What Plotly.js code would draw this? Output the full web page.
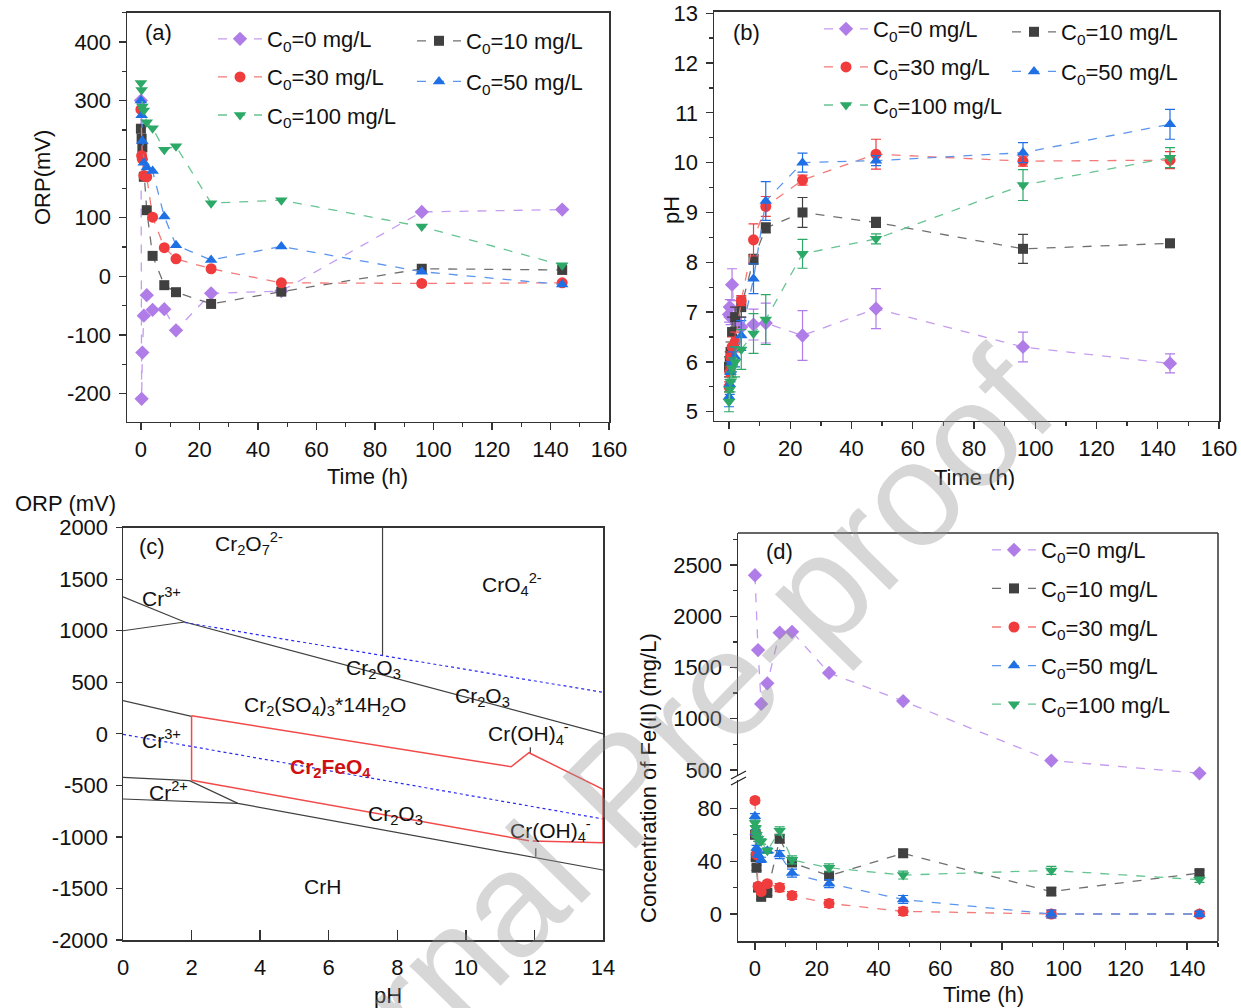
<!DOCTYPE html>
<html><head><meta charset="utf-8">
<script src="https://cdn.plot.ly/plotly-3.0.1.min.js"></script>
<style>html,body{margin:0;padding:0;background:#fff}#chart{width:1241px;height:1008px}</style>
</head><body><div id="chart"></div>
<script>
// ---------------- DATA ----------------
const seriesNames = ['C<sub>0</sub>=0 mg/L','C<sub>0</sub>=10 mg/L','C<sub>0</sub>=30 mg/L','C<sub>0</sub>=50 mg/L','C<sub>0</sub>=100 mg/L'];

// (a) ORP vs time
const timeA = [0,0.25,0.5,1,2,4,8,12,24,48,96,144];
const orpC0   = [300,-209,-130,-67,-32,-57,-56,-92,-29,-25,110,114];
const orpC10  = [252,235,220,170,113,35,-15,-27,-47,-26,13,11];
const orpC30  = [285,206,200,172,170,101,49,30,13,-11,-12,-11];
const orpC50  = [300,275,231,194,186,180,102,53,28,51,8,-14];
const orpC100 = [330,318,290,283,263,253,216,222,125,130,85,19];
const orpTicks = [-200,-100,0,100,200,300,400];
const orpTickText = ['-200','-100','0','100','200','300','400'];

// (b) pH vs time
const timeB = [0,0.25,0.5,1,2,4,8,12,24,48,96,144];
const phC0    = [6.95,7.1,6.9,7.55,6.85,6.7,6.75,6.78,6.53,7.07,6.3,5.97];
const phC0err = [0.15,0.15,0.15,0.32,0.2,0.2,0.31,0.4,0.5,0.4,0.3,0.19];
const phC10    = [5.9,6.0,6.2,6.6,6.9,7.1,8.06,8.69,9.0,8.8,8.27,8.38];
const phC10err = [0.2,0.2,0.2,0.3,0.2,0.2,0.1,0.1,0.3,0.1,0.29,0.08];
const phC30    = [5.5,5.8,6.1,6.3,6.4,7.23,8.45,9.12,9.65,10.17,10.03,10.05];
const phC30err = [0.1,0.1,0.1,0.2,0.2,0.1,0.32,0.2,0.1,0.3,0.1,0.17];
const phC50    = [5.3,5.55,5.8,6.0,6.1,6.53,7.67,9.23,10.0,10.04,10.2,10.77];
const phC50err = [0.2,0.2,0.2,0.2,0.2,0.3,0.3,0.39,0.19,0.1,0.2,0.3];
const phC100    = [5.2,5.45,5.6,5.88,6.0,6.25,6.57,6.85,8.17,8.47,9.55,10.1];
const phC100err = [0.2,0.2,0.2,0.2,0.3,0.4,0.4,0.5,0.29,0.1,0.31,0.2];

// (c) Pourbaix diagram (pH, ORP mV)
const pbBoundaryPH  = [0,1.8,14,null,0,1.8,null,7.57,7.57,null,0,2.0,null,0,1.94,3.35,14,null,0,3.35,null,12.04,12.04,null,11.88,11.88];
const pbBoundaryORP = [1330,1085,0,null,1000,1085,null,2000,760,null,322,170,null,-422,-454,-674,-1321,null,-632,-674,null,-1110,-1193,null,-131,-189];
const fePhasePH  = [2.0,2.0,null,2.0,11.32,11.84,14,14,null,2.0,11.84,null,11.95,14];
const fePhaseORP = [-450,175,null,175,-319,-183,-538,-1056,null,-450,-1036,null,-1040,-1056];
const waterPH  = [1.8,14,null,0,14];
const waterORP = [1080,403,null,-5,-826];
const pbTicks = [-2000,-1500,-1000,-500,0,500,1000,1500,2000];
const pbTickText = ['-2000','-1500','-1000','-500','0','500','1000','1500','2000'];
const pbLabelText = ['Cr<sub>2</sub>O<sub>7</sub><sup>2-</sup>','CrO<sub>4</sub><sup>2-</sup>','Cr<sup>3+</sup>','Cr<sub>2</sub>O<sub>3</sub>','Cr<sub>2</sub>O<sub>3</sub>',
  'Cr<sub>2</sub>(SO<sub>4</sub>)<sub>3</sub>*14H<sub>2</sub>O','Cr(OH)<sub>4</sub><sup>-</sup>','Cr<sup>3+</sup>','Cr<sup>2+</sup>','Cr<sub>2</sub>O<sub>3</sub>','Cr(OH)<sub>4</sub><sup>-</sup>','CrH'];
const pbLabelPH  = [3.67,11.35,1.12,7.32,10.48,5.89,11.82,1.12,1.33,7.94,12.46,5.81];
const pbLabelORP = [1850,1450,1330,630,360,275,0,-50,-550,-790,-935,-1480];
const pbFeLabel = 'Cr<sub>2</sub>FeO<sub>4</sub>';
const pbFeLabelPH = 6.06, pbFeLabelORP = -330;

// (d) Fe(II) concentration vs time
const timeD0 = [0,1,2,4,8,12,24,48,96,144];
const feC0   = [2400,1670,1145,1346,1840,1848,1447,1172,592,468];
const timeD  = [0,0.25,0.5,1,2,4,8,12,24,48,96,144];
const feC10   = [60,43,35,20,13,16,57,39,29,46,17,31];
const feC30   = [86,61,45,21,17,23,20,14,8,2,0,0];
const feC50   = [74,62,50,45,41,48,45,31,23,11,0,0];
const feC100  = [69,65,60,57,55,48,63,41,35,29.5,33,26];
const feErr   = [2,2,2,2,2,2,3,3,3,3,3,2];

// ---------------- STYLE ----------------
const FONT = 'Liberation Sans, Arial, sans-serif';
const colors = ['#b07ce8','#404040','#f03c3c','#1f6fe5','#2ca867'];
const lineColors = ['#c49cf0','#707070','#f47a7a','#5b95ee','#66c492'];
const symbols = ['diamond','square','circle','triangle-up','triangle-down'];
const sizes = [11,10,11,11,11];

const traces = [];
function series(i, x, y, xa, ya, legend, group, err){
  const t = {
    type:'scatter', mode:'lines+markers', x:x, y:y, xaxis:xa, yaxis:ya,
    name: seriesNames[i], legend: legend, legendgroup: group,
    line:{color:lineColors[i], width:1.3, dash:'dash'},
    marker:{color:colors[i], symbol:symbols[i], size:sizes[i], line:{width:0}},
    cliponaxis:false
  };
  if (err) t.error_y = {type:'data', array:err, visible:true, color:colors[i], thickness:1.2, width:5};
  return t;
}
const orpAll = [orpC0,orpC10,orpC30,orpC50,orpC100];
const phAll = [phC0,phC10,phC30,phC50,phC100];
const phErrAll = [phC0err,phC10err,phC30err,phC50err,phC100err];
for (let i=0;i<5;i++){
  traces.push(series(i, timeA, orpAll[i], 'x','y', (i%2===0)?'legend':'legend2', 'a'+i));
}
for (let i=0;i<5;i++){
  traces.push(series(i, timeB, phAll[i], 'x2','y2', (i%2===0)?'legend3':'legend4', 'b'+i, phErrAll[i]));
}
// (c)
traces.push({type:'scatter',mode:'lines',x:pbBoundaryPH,y:pbBoundaryORP,xaxis:'x3',yaxis:'y3',showlegend:false,
  line:{color:'#404040',width:1.2},connectgaps:false,cliponaxis:false});
traces.push({type:'scatter',mode:'lines',x:waterPH,y:waterORP,xaxis:'x3',yaxis:'y3',showlegend:false,
  line:{color:'#2b2bf0',width:1.2,dash:'dot'},connectgaps:false});
traces.push({type:'scatter',mode:'lines',x:fePhasePH,y:fePhaseORP,xaxis:'x3',yaxis:'y3',showlegend:false,
  line:{color:'#f24a4a',width:1.5},connectgaps:false,cliponaxis:false});
// (d)
traces.push(series(0, timeD0, feC0, 'x4','y5','legend5','d0'));
const feAll = [null,feC10,feC30,feC50,feC100];
for (let i=1;i<5;i++){
  traces.push(series(i, timeD, feAll[i], 'x4','y4','legend5','d'+i, feErr));
}

// ---------------- LAYOUT ----------------
const W=1241, H=1008;
const px = v => v/W, py = v => 1 - v/H;
const axisBase = {showgrid:false, zeroline:false, showline:true, linecolor:'#333', linewidth:1.5,
  ticks:'outside', ticklen:7, tickwidth:1.3, tickcolor:'#333',
  tickfont:{family:FONT,size:22,color:'#111'}};
function ax(o){ return Object.assign({}, axisBase, o); }

const ITEMW = 44, SHIFT = ITEMW - 30;
const legendBase = {bgcolor:'rgba(0,0,0,0)', font:{family:FONT,size:22,color:'#111'},
  xanchor:'left', yanchor:'top', itemwidth:ITEMW};
function lg(o){ return Object.assign({}, legendBase, o); }

const ann = [];
function txt(text, x, y, o){ ann.push(Object.assign({text:text, x:px(x), y:py(y), xref:'paper', yref:'paper',
  xanchor:'center', yanchor:'middle', showarrow:false, font:{family:FONT,size:22,color:'#111'}}, o||{})); }
txt('(a)',158,33); txt('(b)',746,32); txt('(c)',152,546); txt('(d)',779,551);
txt('Time (h)',367,476); txt('ORP(mV)',42,178,{textangle:-90});
txt('Time (h)',974,477); txt('pH',671,210,{textangle:-90});
txt('ORP (mV)',65,503); txt('pH',388,995);
txt('Time (h)',984,994); txt('Concentration of Fe(II) (mg/L)',648,778,{textangle:-90});
for (let k=0;k<pbLabelText.length;k++){
  ann.push({text:pbLabelText[k], x:pbLabelPH[k], y:pbLabelORP[k], xref:'x3', yref:'y3', showarrow:false,
    xanchor:'center', yanchor:'middle', font:{family:FONT,size:21,color:'#111'}});
}
ann.push({text:'<b>'+pbFeLabel+'</b>', x:pbFeLabelPH, y:pbFeLabelORP, xref:'x3', yref:'y3', showarrow:false,
  xanchor:'center', yanchor:'middle', font:{family:FONT,size:21,color:'#d01010'}});
// watermark
txt('Journal Pre-proof', 622, 788, {textangle:-45.5, font:{family:FONT,size:149,color:'rgba(150,150,150,0.38)'}});

const dX0 = px(738), dX1 = px(1218);
const shapes = [
  {type:'line', xref:'paper', yref:'paper', x0:dX0, x1:dX1, y0:py(533), y1:py(533), line:{color:'#333',width:1.5}},
  {type:'line', xref:'paper', yref:'paper', x0:dX1, x1:dX1, y0:py(533), y1:py(941), line:{color:'#333',width:1.5}},
  {type:'line', xref:'paper', yref:'paper', x0:px(731), x1:px(746), y0:py(785), y1:py(777), line:{color:'#222',width:1.3}},
  {type:'line', xref:'paper', yref:'paper', x0:px(731), x1:px(746), y0:py(779), y1:py(771), line:{color:'#222',width:1.3}}
];

const layout = {
  width:W, height:H, margin:{l:0,r:0,t:0,b:0}, paper_bgcolor:'#fff', plot_bgcolor:'rgba(0,0,0,0)',
  font:{family:FONT,size:22,color:'#111'}, hovermode:false,
  xaxis: ax({domain:[px(127),px(609)], anchor:'y', range:[-4.75,160], tick0:0, dtick:20, mirror:true,
    minor:{dtick:10,ticklen:4,ticks:'outside',tickcolor:'#333'}, ticklabelstandoff:0}),
  yaxis: ax({domain:[py(421.7),py(12.7)], anchor:'x', range:[-248,450], tickvals:orpTicks, ticktext:orpTickText, mirror:true,
    minor:{dtick:50,ticklen:4,ticks:'outside',tickcolor:'#333'}, ticklabelstandoff:3}),
  xaxis2: ax({domain:[px(714),px(1219)], anchor:'y2', range:[-4.9,160], tick0:0, dtick:20, mirror:true,
    minor:{dtick:10,ticklen:4,ticks:'outside',tickcolor:'#333'}, ticklabelstandoff:0}),
  yaxis2: ax({domain:[py(420.7),py(11.7)], anchor:'x2', range:[4.82,13.03], tick0:5, dtick:1, mirror:true,
    minor:{dtick:0.5,ticklen:4,ticks:'outside',tickcolor:'#333'}, ticklabelstandoff:3}),
  xaxis3: ax({domain:[px(123),px(603)], anchor:'y3', range:[0,14], tickvals:[0,2,4,6,8,10,12,14], mirror:true,
    ticks:'inside', ticklen:10, ticklabelstandoff:7}),
  yaxis3: ax({domain:[py(940),py(527.7)], anchor:'x3', range:[-2000,2000], tickvals:pbTicks, ticktext:pbTickText, mirror:true,
    ticklen:6, ticklabelstandoff:3}),
  xaxis4: ax({domain:[dX0,dX1], anchor:'y4', range:[-5.5,150], tick0:0, dtick:20,
    minor:{dtick:10,ticklen:4,ticks:'outside',tickcolor:'#333'}, ticklabelstandoff:0}),
  yaxis4: ax({domain:[py(941),py(780)], anchor:'x4', range:[-20.45,101.5], tickvals:[0,40,80],
    minor:{tickvals:[20,60],ticklen:4,ticks:'outside',tickcolor:'#333'}, ticklabelstandoff:3}),
  yaxis5: ax({domain:[py(776),py(533)], anchor:'x4', range:[441.5,2812], tickvals:[500,1000,1500,2000,2500],
    minor:{tickvals:[750,1250,1750,2250,2750],ticklen:4,ticks:'outside',tickcolor:'#333'}, ticklabelstandoff:3}),
  legend:  lg({x:px(227-SHIFT), y:py(18), tracegroupgap:6.5}),
  legend2: lg({x:px(426-SHIFT), y:py(20), tracegroupgap:9}),
  legend3: lg({x:px(833-SHIFT), y:py(8), tracegroupgap:6.5}),
  legend4: lg({x:px(1021-SHIFT), y:py(11), tracegroupgap:8}),
  legend5: lg({x:px(1001-SHIFT), y:py(529), tracegroupgap:7}),
  annotations: ann,
  shapes: shapes
};

Plotly.newPlot('chart', traces, layout, {displayModeBar:false, staticPlot:true});
</script>
</body></html>
